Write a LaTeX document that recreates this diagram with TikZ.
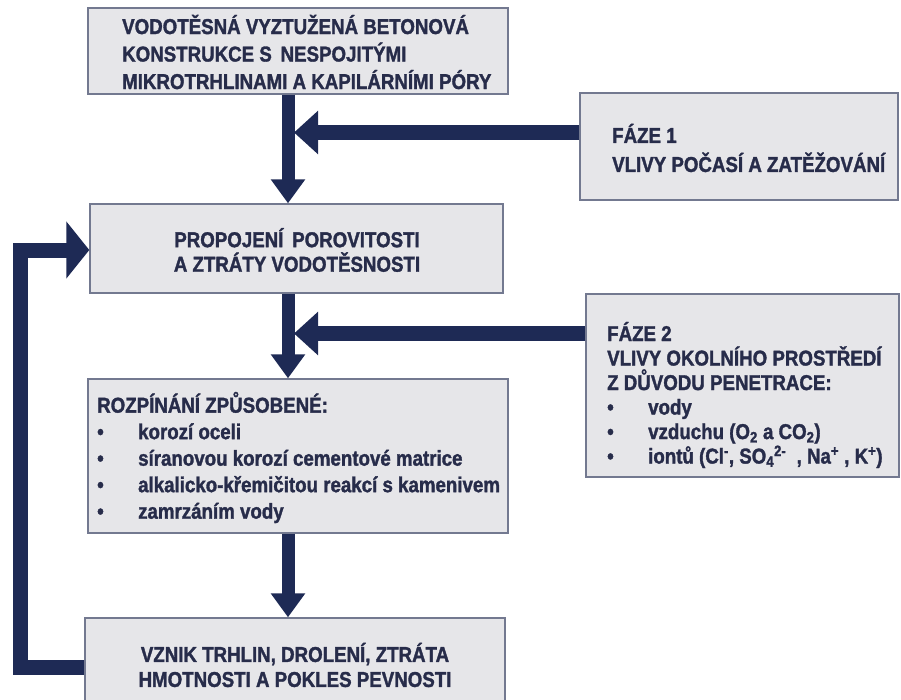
\documentclass[tikz,border=0pt]{standalone}
\usepackage{fontspec}
\setmainfont[FakeStretch = 0.87, BoldFeatures = {FakeBold = 1.5}]{Liberation Sans}
\usepackage{xcolor}
\usetikzlibrary{arrows.meta}

\definecolor{navy}{HTML}{1E2A55}
\definecolor{boxfill}{HTML}{E6E6E9}
\definecolor{boxline}{HTML}{737990}
\definecolor{ink}{HTML}{272C4A}

\begin{document}
\begin{tikzpicture}[x = 1pt, y = -1pt,
	panel/.style = {draw = boxline, line width = 1.4pt, fill = boxfill, inner sep = 0pt},
	caption/.style = {text = ink, inner sep = 0pt, align = left, font = \bfseries\fontsize{21.5}{#1}\selectfont},
	caption/.default = 27.5,
	down/.style = {navy, line width = 13pt, -{Triangle[width = 33pt, length = 24pt]}},
	side/.style = {navy, line width = 15pt, -{Triangle[width = 42pt, length = 24pt]}},
	back/.style = {navy, line width = 15pt, -{Triangle[width = 56pt, length = 23pt]}}]
	\useasboundingbox (0, 0) rectangle (901, 699);
	\node[panel, minimum width = 420pt, minimum height = 86pt] (beton) at (298, 51) {};
	\node[panel, minimum width = 318pt, minimum height = 107pt] (faze1) at (739, 146.5) {};
	\node[panel, minimum width = 413pt, minimum height = 89pt] (propojeni) at (296.5, 248.5) {};
	\node[panel, minimum width = 313pt, minimum height = 183pt] (faze2) at (742.5, 385.5) {};
	\node[panel, minimum width = 420pt, minimum height = 154pt] (rozpinani) at (298, 456) {};
	\node[panel, minimum width = 420pt, minimum height = 100pt] (vznik) at (295, 668) {};
	\node[caption, anchor = west] (beton text) at (122, 52)
		{VODOTĚSNÁ VYZTUŽENÁ BETONOVÁ\\KONSTRUKCE S\, NESPOJITÝMI\\MIKROTRHLINAMI A KAPILÁRNÍMI PÓRY};
	\node[caption = 29, anchor = west] (faze1 text) at (612, 148)
		{FÁZE 1\\VLIVY POČASÍ A ZATĚŽOVÁNÍ};
	\node[caption = 24.5, align = center] (propojeni text) at (297, 250)
		{PROPOJENÍ\, POROVITOSTI\\A ZTRÁTY VODOTĚSNOSTI};
	\node[caption = 24.5, anchor = west] (faze2 text) at (607, 395)
		{FÁZE 2\\VLIVY OKOLNÍHO PROSTŘEDÍ\\Z DŮVODU PENETRACE:\\
		\makebox[41pt][l]{•}vody\\
		\makebox[41pt][l]{•}vzduchu (O\textsubscript{2} a CO\textsubscript{2})\\
		\makebox[41pt][l]{•}iontů (Cl\textsuperscript{-}, SO\textsubscript{4}\textsuperscript{2-}\ \ , Na\textsuperscript{+} , K\textsuperscript{+})};
	\node[caption = 26.5, anchor = west] (rozpinani text) at (97, 457.5)
		{ROZPÍNÁNÍ ZPŮSOBENÉ:\\
		\makebox[41pt][l]{•}korozí oceli\\
		\makebox[41pt][l]{•}síranovou korozí cementové matrice\\
		\makebox[41pt][l]{•}alkalicko-křemičitou reakcí s kamenivem\\
		\makebox[41pt][l]{•}zamrzáním vody};
	\node[caption = 25, align = center] (vznik text) at (295, 665)
		{VZNIK TRHLIN, DROLENÍ, ZTRÁTA\\HMOTNOSTI A POKLES PEVNOSTI};
	\coordinate (spine) at (288, 0);
	\coordinate (in1) at (294, 132.5);
	\coordinate (in2) at (294, 333.5);
	\coordinate (loopdown) at (20, 667);
	\coordinate (loopup) at (20, 250);
	\draw[down] (beton.south -| spine) -- (propojeni.north -| spine);
	\draw[down] (propojeni.south -| spine) -- (rozpinani.north -| spine);
	\draw[down] (rozpinani.south -| spine) -- (vznik.north -| spine);
	\draw[side] (faze1.west |- in1) -- (in1);
	\draw[side] (faze2.west |- in2) -- (in2);
	\draw[back] (vznik.west |- loopdown) -- (loopdown) -- (loopup) -- (propojeni.west |- loopup);
\end{tikzpicture}
\end{document}
